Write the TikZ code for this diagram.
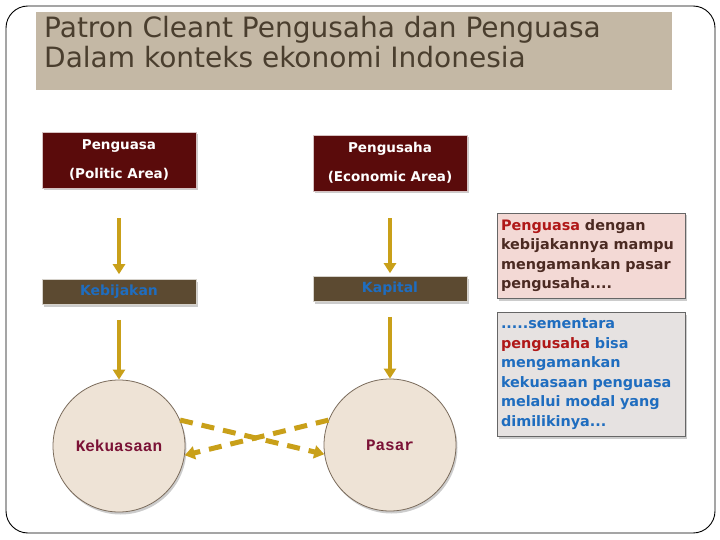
\documentclass[tikz,border=0pt]{standalone}
\usepackage{fontspec}
\setmainfont{DejaVu Sans}
\newfontfamily\wordfont{Liberation Mono}
\usetikzlibrary{arrows.meta,shadows}

\definecolor{titlebg}{HTML}{C4B8A5}
\definecolor{titletext}{HTML}{4A3E2E}
\definecolor{maroonbox}{HTML}{5A0B0B}
\definecolor{olivebox}{HTML}{5C4A31}
\definecolor{boxblue}{HTML}{1F6DBF}
\definecolor{goldarrow}{HTML}{C9A019}
\definecolor{circlefill}{HTML}{EEE3D6}
\definecolor{circleline}{HTML}{7A6B5B}
\definecolor{wordred}{HTML}{7B1236}
\definecolor{pinkfill}{HTML}{F3D9D5}
\definecolor{grayfill}{HTML}{E6E2E1}
\definecolor{textbrown}{HTML}{4B2A22}
\definecolor{textred}{HTML}{B01818}

\tikzset{
  softshadow/.style={drop shadow={opacity=0.4, shadow xshift=1.5pt, shadow yshift=-2.5pt}},
  areabox/.style={draw=white!75!maroonbox, line width=0.6pt, fill=maroonbox,
    minimum width=154pt, minimum height=56pt, text=white, align=center,
    font=\bfseries\fontsize{13.5}{29}\selectfont, softshadow},
  toolbox/.style={draw=white!75!olivebox, line width=0.6pt, fill=olivebox,
    minimum width=154pt, minimum height=25pt, text=boxblue,
    font=\bfseries\fontsize{14}{15}\selectfont, softshadow},
  worldcircle/.style={circle, draw=circleline, line width=0.8pt, fill=circlefill,
    minimum size=132pt, text=wordred, font=\wordfont\bfseries\fontsize{16}{18}\selectfont,
    softshadow},
  notebox/.style={draw=gray!80!black, line width=0.6pt, minimum width=188pt,
    text width=180pt, align=left, inner sep=4pt,
    font=\bfseries\fontsize{14.4}{19.6}\selectfont, softshadow},
  flow/.style={goldarrow, line width=3.5pt, -{Triangle[width=12pt,length=10pt]}},
  crossflow/.style={goldarrow, line width=5pt, dash pattern=on 13pt off 9pt,
    -{Triangle[width=13pt,length=10pt]}}
}

\begin{document}
\begin{tikzpicture}[x=1pt, y=-1pt]

  \useasboundingbox (0,0) rectangle (720,540);
  \fill[white] (0,0) rectangle (720,540);

  % ================================================================
  % Frame and title
  % ================================================================

  \draw[rounded corners=22pt, line width=0.9pt]
    (6,6) rectangle (715,533);

  \fill[titlebg] (36,12) rectangle (672,90);
  \node[anchor=north west, align=left, inner sep=0pt, text=titletext,
    font=\fontsize{28}{30}\selectfont] (title) at (44,16)
    {Patron Cleant Pengusaha dan Penguasa\\
     Dalam konteks ekonomi Indonesia};

  % ================================================================
  % Actors
  % ================================================================

  \node[areabox] (penguasa) at (119,160)
    {Penguasa\\(Politic Area)};
  \node[areabox] (pengusaha) at (390,163)
    {Pengusaha\\(Economic Area)};

  \node[toolbox] (kebijakan) at (119,292) {Kebijakan};
  \node[toolbox] (kapital) at (390,289) {Kapital};

  \node[worldcircle] (kekuasaan) at (119,446) {Kekuasaan};
  \node[worldcircle] (pasar) at (390,445) {Pasar};

  % ================================================================
  % Notes (right column)
  % ================================================================

  \node[notebox, fill=pinkfill, text=textbrown, minimum height=85pt]
    (note1) at (591,255.5)
    {{\color{textred}Penguasa} dengan\\
     kebijakannya mampu\\
     mengamankan pasar\\
     pengusaha....};

  \node[notebox, fill=grayfill, text=boxblue, minimum height=124pt]
    (note2) at (591,374)
    {.....sementara\\
     {\color{textred}pengusaha} bisa\\
     mengamankan\\
     kekuasaan penguasa\\
     melalui modal yang\\
     dimilikinya...};

  % ================================================================
  % Arrows
  % ================================================================

  % --- areas -> instruments ---
  \draw[flow, shorten <=30pt, shorten >=5pt] (penguasa) -- (kebijakan);
  \draw[flow, shorten <=27pt, shorten >=3pt] (pengusaha) -- (kapital);

  % --- instruments -> domains ---
  \draw[flow, shorten <=15pt] (kebijakan) -- (kekuasaan);
  \draw[flow, shorten <=15pt] (kapital) -- (pasar);

  % --- crossing exchange ---
  \draw[crossflow] (kekuasaan.23) -- (pasar.188);
  \draw[crossflow] (pasar.158) -- (kekuasaan.-8);

\end{tikzpicture}
\end{document}
